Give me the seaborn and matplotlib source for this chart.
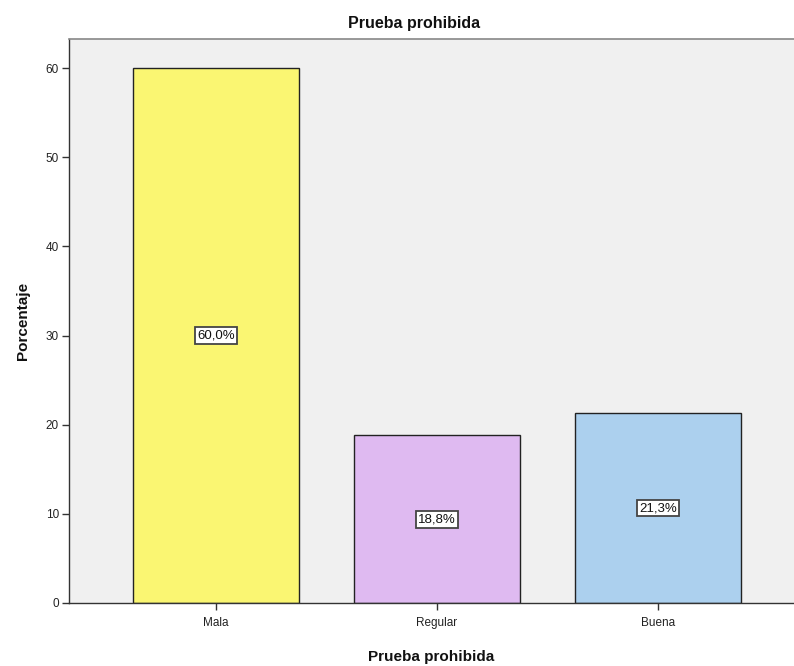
import matplotlib
matplotlib.use("Agg")
import matplotlib.pyplot as plt
import seaborn as sns
import pandas as pd

categories = ["Mala", "Regular", "Buena"]
percentages = [60.0, 18.8, 21.3]
bar_colors = ["#FAF672", "#DFBAF1", "#ACD0EE"]
value_labels = ["60,0%", "18,8%", "21,3%"]
y_ticks = [0, 10, 20, 30, 40, 50, 60]

sns.set_theme(style="white")
plt.rcParams["font.family"] = ["Liberation Sans", "DejaVu Sans"]

df = pd.DataFrame({"cat": categories, "pct": percentages})

fig = plt.figure(figsize=(7.94, 6.66), dpi=100)
ax = fig.add_axes([0.0863, 0.0946, 0.9137, 0.8468])
ax.set_facecolor("#F0F0F0")

sns.barplot(data=df, x="cat", y="pct", hue="cat", palette=bar_colors,
            order=categories, hue_order=categories, legend=False, saturation=1,
            width=0.75, edgecolor="#222222", linewidth=1.0, ax=ax, zorder=2)

for i, (v, lab) in enumerate(zip(percentages, value_labels)):
    ax.text(i, v / 2, lab, ha="center", va="center", fontsize=9.5, color="#111111",
            bbox=dict(boxstyle="square,pad=0.18", facecolor="white",
                      edgecolor="#444444", linewidth=1.3), zorder=3)

ax.set_xlim(-0.667, 2.615)
ax.set_ylim(0, 63.25)
ax.set_yticks(y_ticks)
ax.set_yticklabels([str(t) for t in y_ticks])

ax.tick_params(axis="both", which="major", direction="out", length=5, width=1.0,
               color="#333333", labelsize=8.5, labelcolor="#222222", pad=2,
               left=True, bottom=True)
ax.tick_params(axis="x", pad=5)

for side in ["left", "bottom"]:
    ax.spines[side].set_color("#333333")
    ax.spines[side].set_linewidth(1.0)
ax.spines["top"].set_color("#888888")
ax.spines["top"].set_linewidth(1.2)
ax.spines["right"].set_visible(False)

ax.set_xlabel("Prueba prohibida", fontsize=11, fontweight="bold", color="#111111", labelpad=15)
ax.set_ylabel("Porcentaje", fontsize=11, fontweight="bold", color="#111111", labelpad=11)
fig.text(0.521, 0.965, "Prueba prohibida", ha="center", va="center",
         fontsize=11.5, fontweight="bold", color="#111111")

fig.savefig("out.png", dpi=100)
